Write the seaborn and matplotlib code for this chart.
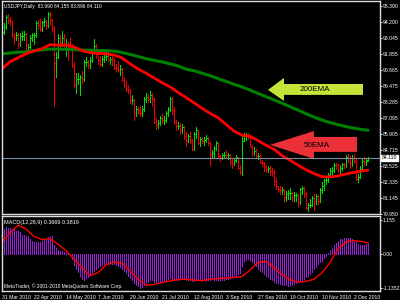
import numpy as np
import pandas as pd
import matplotlib
matplotlib.use("Agg")
import matplotlib.pyplot as plt
import matplotlib.transforms as mtransforms
import seaborn as sns

# ---------------- data ----------------
opens = [93.05, 93.45, 93.85, 94.60, 94.35, 94.25, 93.25, 93.00, 93.25, 92.55,
         93.15, 93.15, 93.30, 92.15, 92.35, 93.05, 93.20, 93.25, 94.15, 94.00,
         93.70, 94.20, 94.25, 93.95, 94.80, 94.35, 93.75, 91.15, 91.60, 93.05,
         92.75, 93.05, 92.50, 92.55, 92.50, 92.45, 91.00, 89.50, 90.00, 90.00,
         90.10, 89.95, 91.20, 91.20, 91.00, 91.35, 92.05, 92.45, 91.85, 91.35,
         91.05, 91.45, 91.60, 91.65, 91.40, 91.45, 91.35, 90.80, 90.75, 90.65,
         90.70, 89.90, 89.55, 89.20, 89.15, 88.40, 88.40, 87.45, 87.75, 87.70,
         87.45, 87.75, 88.50, 88.65, 88.50, 88.75, 88.45, 86.75, 86.55, 86.70,
         87.05, 86.95, 86.95, 87.45, 87.75, 88.50, 87.65, 86.75, 86.45, 86.50,
         86.20, 86.40, 85.75, 85.40, 85.75, 85.40, 84.80, 85.90, 86.20, 85.25,
         85.50, 85.40, 85.45, 85.60, 85.20, 84.40, 84.45, 84.85, 85.25, 84.25,
         84.20, 84.30, 84.35, 84.30, 84.30, 83.80, 83.75, 83.95, 84.15, 83.40,
         83.10, 85.40, 85.80, 85.85, 85.65, 84.90, 84.50, 84.60, 84.25, 84.25,
         83.80, 83.70, 83.45, 83.30, 83.40, 83.15, 83.10, 82.40, 82.00, 81.80,
         81.75, 81.75, 81.20, 81.40, 81.50, 81.50, 81.20, 81.35, 81.35, 80.85,
         81.80, 81.85, 81.45, 80.40, 80.60, 80.65, 81.15, 80.90, 81.25, 80.95,
         81.75, 82.05, 82.45, 82.45, 82.85, 83.15, 83.25, 83.60, 83.55, 83.20,
         83.35, 83.65, 83.55, 84.15, 84.10, 83.70, 84.10, 83.90, 82.55, 82.70,
         83.30, 83.85, 83.80, 83.99]
highs = [93.65, 94.10, 94.75, 94.80, 94.60, 94.30, 93.40, 93.45, 93.40, 93.35,
         93.50, 93.50, 93.40, 92.55, 93.20, 93.35, 93.40, 94.25, 94.35, 94.40,
         94.30, 94.50, 94.35, 94.95, 94.98, 94.40, 93.90, 92.00, 93.30, 93.20,
         93.50, 93.30, 92.95, 92.70, 93.00, 92.60, 91.20, 90.40, 90.40, 90.30,
         90.60, 91.40, 91.60, 91.35, 91.60, 92.20, 92.95, 92.60, 92.00, 91.70,
         91.70, 91.95, 92.00, 92.05, 91.60, 91.70, 91.50, 91.05, 91.30, 91.00,
         90.80, 90.10, 89.80, 89.50, 89.20, 88.75, 88.50, 88.00, 87.90, 88.00,
         88.00, 88.60, 88.90, 88.85, 89.10, 88.90, 88.55, 87.10, 86.90, 87.20,
         87.40, 87.20, 87.60, 87.90, 88.60, 88.60, 87.90, 86.90, 86.80, 86.70,
         86.60, 86.50, 86.00, 85.90, 86.00, 85.55, 86.00, 86.40, 86.20, 85.65,
         85.70, 85.70, 85.80, 85.70, 85.30, 84.70, 85.00, 85.35, 85.30, 84.35,
         84.50, 84.55, 84.70, 84.50, 84.40, 84.05, 84.10, 84.35, 84.20, 83.60,
         85.80, 85.95, 85.95, 85.95, 85.85, 85.05, 84.90, 84.75, 84.45, 84.40,
         83.95, 83.80, 83.60, 83.50, 83.50, 83.35, 83.20, 82.60, 82.05, 82.00,
         81.95, 81.80, 81.65, 81.70, 81.85, 81.60, 81.55, 81.50, 81.40, 81.90,
         82.00, 81.95, 81.60, 80.80, 81.10, 81.30, 81.40, 81.40, 81.35, 81.90,
         82.30, 82.55, 82.65, 83.00, 83.35, 83.45, 83.70, 83.70, 83.65, 83.55,
         83.75, 83.75, 84.35, 84.40, 84.25, 84.30, 84.40, 84.00, 82.90, 83.50,
         84.00, 84.15, 84.10, 84.155]
lows = [92.80, 93.30, 93.70, 94.15, 93.95, 93.10, 92.55, 92.90, 92.30, 92.45,
        92.85, 92.90, 91.95, 91.90, 92.25, 92.80, 92.60, 93.10, 93.70, 93.55,
        93.50, 93.90, 93.70, 93.85, 94.00, 93.50, 87.95, 90.10, 91.50, 92.35,
        92.40, 92.30, 91.70, 91.40, 92.20, 90.85, 89.40, 88.90, 89.60, 88.80,
        89.70, 89.80, 90.90, 90.75, 90.80, 91.20, 91.90, 91.50, 91.05, 90.90,
        90.95, 91.20, 91.40, 91.30, 91.05, 91.00, 90.70, 90.55, 90.50, 90.30,
        89.80, 89.40, 89.10, 88.90, 88.20, 88.15, 86.95, 87.20, 87.40, 87.20,
        87.20, 87.60, 88.30, 88.30, 88.30, 88.00, 86.70, 86.25, 86.30, 86.55,
        86.70, 86.60, 86.80, 87.20, 87.60, 87.40, 86.60, 86.20, 86.25, 85.90,
        85.95, 85.55, 85.00, 85.30, 85.20, 84.70, 84.70, 85.60, 85.15, 85.00,
        85.20, 85.10, 85.30, 85.10, 83.60, 84.10, 84.20, 84.70, 84.20, 83.90,
        84.00, 84.10, 84.15, 84.00, 83.55, 83.40, 83.55, 83.80, 83.30, 82.90,
        82.85, 85.40, 85.45, 85.50, 84.90, 84.25, 84.30, 84.10, 84.05, 83.70,
        83.50, 83.15, 83.05, 83.10, 82.85, 82.80, 82.10, 81.80, 81.60, 81.40,
        81.40, 80.85, 80.90, 81.10, 81.10, 80.95, 80.90, 80.90, 80.55, 80.70,
        81.45, 81.20, 80.35, 80.20, 80.45, 80.55, 80.25, 80.70, 80.70, 80.85,
        81.50, 81.75, 82.15, 82.30, 82.70, 82.95, 83.10, 83.30, 83.05, 82.90,
        83.20, 83.40, 83.45, 83.80, 83.40, 83.50, 83.70, 82.50, 82.30, 82.60,
        83.20, 83.60, 83.60, 83.896]
closes = [93.45, 93.85, 94.60, 94.35, 94.25, 93.25, 93.00, 93.25, 92.55, 93.15,
          93.15, 93.30, 92.15, 92.35, 93.05, 93.20, 93.25, 94.15, 94.00, 93.70,
          94.20, 94.25, 93.95, 94.80, 94.35, 93.75, 91.15, 91.60, 93.05, 92.75,
          93.05, 92.50, 92.55, 92.50, 92.45, 91.00, 89.50, 90.00, 90.00, 90.10,
          89.95, 91.20, 91.20, 91.00, 91.35, 92.05, 92.45, 91.85, 91.35, 91.05,
          91.45, 91.60, 91.65, 91.40, 91.45, 91.35, 90.80, 90.75, 90.65, 90.70,
          89.90, 89.55, 89.20, 89.15, 88.40, 88.40, 87.45, 87.75, 87.70, 87.45,
          87.75, 88.50, 88.65, 88.50, 88.75, 88.45, 86.75, 86.55, 86.70, 87.05,
          86.95, 86.95, 87.45, 87.75, 88.50, 87.65, 86.75, 86.45, 86.50, 86.20,
          86.40, 85.75, 85.40, 85.75, 85.40, 84.80, 85.90, 86.20, 85.25, 85.50,
          85.40, 85.45, 85.60, 85.20, 84.40, 84.45, 84.85, 85.25, 84.25, 84.20,
          84.30, 84.35, 84.30, 84.30, 83.80, 83.75, 83.95, 84.15, 83.40, 83.10,
          85.40, 85.80, 85.85, 85.65, 84.90, 84.50, 84.60, 84.25, 84.25, 83.80,
          83.70, 83.45, 83.30, 83.40, 83.15, 83.10, 82.40, 82.00, 81.80, 81.75,
          81.75, 81.20, 81.40, 81.50, 81.50, 81.20, 81.35, 81.35, 80.85, 81.80,
          81.85, 81.45, 80.40, 80.60, 80.65, 81.15, 80.90, 81.25, 80.95, 81.75,
          82.05, 82.45, 82.45, 82.85, 83.15, 83.25, 83.60, 83.55, 83.20, 83.35,
          83.65, 83.55, 84.15, 84.10, 83.70, 84.10, 83.90, 82.55, 82.70, 83.30,
          83.85, 83.80, 83.90, 84.11]

macd_hist = [0.80, 0.85, 0.92, 0.90, 0.88, 0.86, 0.85, 0.80, 0.78, 0.75,
             0.66, 0.66, 0.62, 0.60, 0.50, 0.45, 0.43, 0.42, 0.42, 0.43,
             0.45, 0.48, 0.52, 0.58, 0.62, 0.60, 0.30, 0.20, 0.15, 0.12,
             0.10, 0.08, 0.06, 0.05, 0.00, -0.15, -0.35, -0.50, -0.60, -0.72,
             -0.82, -0.85, -0.80, -0.78, -0.70, -0.62, -0.55, -0.48, -0.42, -0.38,
             -0.36, -0.33, -0.32, -0.30, -0.31, -0.33, -0.34, -0.36, -0.38, -0.42,
             -0.48, -0.55, -0.62, -0.72, -0.80, -0.88, -0.95, -1.02, -1.08, -1.12,
             -1.10, -1.05, -0.98, -0.92, -0.85, -0.88, -0.92, -0.95, -0.94, -0.92,
             -0.90, -0.88, -0.86, -0.82, -0.80, -0.82, -0.85, -0.88, -0.86, -0.84,
             -0.82, -0.83, -0.85, -0.87, -0.88, -0.90, -0.90, -0.88, -0.86, -0.85,
             -0.86, -0.88, -0.90, -0.88, -0.85, -0.84, -0.86, -0.88, -0.90, -0.88,
             -0.86, -0.85, -0.84, -0.82, -0.80, -0.78, -0.75, -0.72, -0.68, -0.62,
             -0.40, -0.25, -0.18, -0.16, -0.20, -0.26, -0.32, -0.40, -0.48, -0.55,
             -0.60, -0.65, -0.72, -0.78, -0.84, -0.88, -0.92, -0.96, -0.98, -1.00,
             -1.02, -1.03, -1.05, -1.06, -1.05, -1.02, -1.00, -0.97, -0.94, -0.90,
             -0.86, -0.82, -0.78, -0.72, -0.65, -0.58, -0.50, -0.42, -0.34, -0.25,
             -0.22, -0.14, -0.06, 0.04, 0.14, 0.22, 0.30, 0.38, 0.44, 0.50,
             0.52, 0.54, 0.55, 0.56, 0.55, 0.52, 0.48, 0.40, 0.34, 0.30,
             0.30, 0.32, 0.34, 0.367]

# lines sampled every 4th bar (plus the last bar)
line_idx = list(range(0, 184, 4)) + [183]
ema200 = [91.84, 91.90, 91.96, 91.98, 92.08, 92.14, 92.19, 92.19, 92.17, 92.15,
          92.12, 92.10, 92.09, 92.08, 92.04, 91.94, 91.80, 91.64, 91.48, 91.36,
          91.24, 91.10, 90.94, 90.70, 90.58, 90.40, 90.22, 90.00, 89.80, 89.58,
          89.38, 89.15, 88.90, 88.66, 88.42, 88.18, 87.92, 87.66, 87.40, 87.14,
          86.92, 86.74, 86.58, 86.44, 86.32, 86.22, 86.17]
ema50 = [90.72, 91.25, 91.55, 91.85, 92.05, 92.22, 92.52, 92.48, 92.50, 92.35,
         92.08, 91.92, 91.88, 91.84, 91.75, 91.54, 91.10, 90.72, 90.40, 90.05,
         89.70, 89.39, 88.98, 88.60, 88.20, 87.80, 87.42, 87.10, 86.60, 86.10,
         85.80, 85.72, 85.40, 85.05, 84.76, 84.28, 83.94, 83.58, 83.24, 82.95,
         82.72, 82.70, 82.78, 82.92, 83.04, 83.14, 83.20]
macd_signal = [0.42, 0.72, 0.98, 0.85, 0.60, 0.50, 0.52, 0.34, 0.12, -0.15,
               -0.45, -0.72, -0.62, -0.36, -0.26, -0.30, -0.55, -0.84, -1.04, -1.02,
               -0.95, -0.90, -0.85, -0.84, -0.87, -0.89, -0.84, -0.82, -0.80, -0.78,
               -0.75, -0.53, -0.28, -0.24, -0.45, -0.68, -0.86, -0.94, -0.91, -0.84,
               -0.62, -0.28, 0.18, 0.41, 0.46, 0.43, 0.38]

date_idx = [0, 16, 32, 48, 64, 80, 96, 112, 128, 144, 160, 176]
date_labels = ["31 Mar 2010", "22 Apr 2010", "14 May 2010", "7 Jun 2010",
               "29 Jun 2010", "21 Jul 2010", "12 Aug 2010", "3 Sep 2010",
               "27 Sep 2010", "19 Oct 2010", "10 Nov 2010", "2 Dec 2010"]
price_ticks = [95.390, 94.200, 93.045, 91.855, 90.665, 89.475, 88.285,
               87.095, 85.905, 84.715, 83.525, 82.335, 81.145, 79.950]
macd_ticks = [1.155, 0.0, -1.1352]
macd_tick_labels = ["1.155", "0.00", "-1.1352"]
last_price = 84.110
header = "USDJPY,Daily  83.990 84.155 83.896 84.110"
macd_title = "MACD(12,26,9) 0.3669 0.3819"
copyright_text = "MetaTrader, \u00a9 2001-2010 MetaQuotes Software Corp."

# ---------------- style ----------------
sns.set_style("dark")
plt.rcParams['font.family'] = ['Liberation Sans', 'DejaVu Sans']
plt.rcParams['axes.unicode_minus'] = False
BG = "black"
FG = "white"
UP = "#00DD00"
DOWN = "#EE0000"
FS = 3.7
PX = 72 / 100  # one pixel in points

fig = plt.figure(figsize=(4, 3), dpi=100, facecolor=BG)
ax = fig.add_axes([2/400, 1 - 214/300, 378/400, 213/300])
axm = fig.add_axes([2/400, 1 - 291/300, 378/400, 75/300], sharex=ax)

for a in (ax, axm):
    a.set_facecolor(BG)
    a.grid(False)
    for s in a.spines.values():
        s.set_color("#DDDDDD")
        s.set_linewidth(1.0)
    a.yaxis.tick_right()
    a.tick_params(axis='y', colors=FG, labelsize=FS, length=1.5, width=0.6, pad=0.6)

df = pd.DataFrame({"i": np.arange(len(closes)), "o": opens, "h": highs,
                   "l": lows, "c": closes})
df["col"] = np.where(df["c"] >= df["o"], UP, DOWN)

# price bars (1-pixel OHLC bars)
ax.vlines(df["i"], df["l"], df["h"], colors=df["col"], lw=PX, antialiased=False)
ax.hlines(df["o"], df["i"] - 0.5, df["i"], colors=df["col"], lw=PX, antialiased=False)
ax.hlines(df["c"], df["i"], df["i"] + 0.5, colors=df["col"], lw=PX, antialiased=False)

# EMAs
lines = pd.DataFrame({"i": line_idx, "ema200": ema200, "ema50": ema50,
                      "signal": macd_signal})
sns.lineplot(data=lines, x="i", y="ema200", ax=ax, color="#008000", lw=2.2)
sns.lineplot(data=lines, x="i", y="ema50", ax=ax, color="#FF0000", lw=2.0)

ax.axhline(last_price, color="#7A8AA0", lw=0.8)

ax.set_xlim(0, 189)
ax.set_ylim(79.95, 95.76)
ax.set_yticks(price_ticks)
ax.set_yticklabels([f"{t:.3f}" for t in price_ticks])
ax.set_xlabel("")
ax.set_ylabel("")
ax.tick_params(axis='x', bottom=False, labelbottom=False)

trans = mtransforms.blended_transform_factory(ax.transAxes, ax.transData)
ax.text(1.005, last_price, f"{last_price:.3f}", transform=trans, fontsize=FS,
        color="black", va="center", ha="left",
        bbox=dict(facecolor="white", edgecolor="white", pad=0.5))
ax.text(0.004, 0.988, header, transform=ax.transAxes, fontsize=3.5, color=FG,
        va="top", ha="left")

# annotation arrows
arrow200 = [(133, 89.16), (141, 90.05), (141, 89.60), (180.5, 89.60),
            (180.5, 88.79), (141, 88.79), (141, 88.34)]
arrow50 = [(134, 85.08), (156, 86.11), (156, 85.67), (177.5, 85.67),
           (177.5, 84.56), (156, 84.56), (156, 84.04)]
ax.fill(*zip(*arrow200), color="#C4E43A", lw=0)
ax.fill(*zip(*arrow50), color="#EC3038", lw=0)
ax.text(156.5, 89.17, "200EMA", fontsize=5.8, color="black", ha="center", va="center")
ax.text(157.5, 85.05, "50EMA", fontsize=5.8, color="black", ha="center", va="center")

# MACD panel
axm.vlines(np.arange(len(macd_hist)), 0, macd_hist, colors="#9A1ED8", lw=PX,
           antialiased=False)
sns.lineplot(data=lines, x="i", y="signal", ax=axm, color="#FF0000", lw=1.0)
axm.set_ylim(-1.236, 1.29)
axm.set_yticks(macd_ticks)
axm.set_yticklabels(macd_tick_labels)
axm.set_xticks(date_idx)
axm.set_xticklabels(date_labels, ha="left")
axm.tick_params(axis='x', colors=FG, labelsize=FS, length=2, width=0.6, pad=1)
axm.set_xlabel("")
axm.set_ylabel("")
axm.text(0.005, 0.95, macd_title, transform=axm.transAxes, fontsize=4.0,
         color=FG, va="top", ha="left")
axm.text(0.004, 0.03, copyright_text,
         transform=axm.transAxes, fontsize=3.5, color=FG, va="bottom", ha="left")

fig.savefig("out.png", dpi=100, facecolor=BG)
